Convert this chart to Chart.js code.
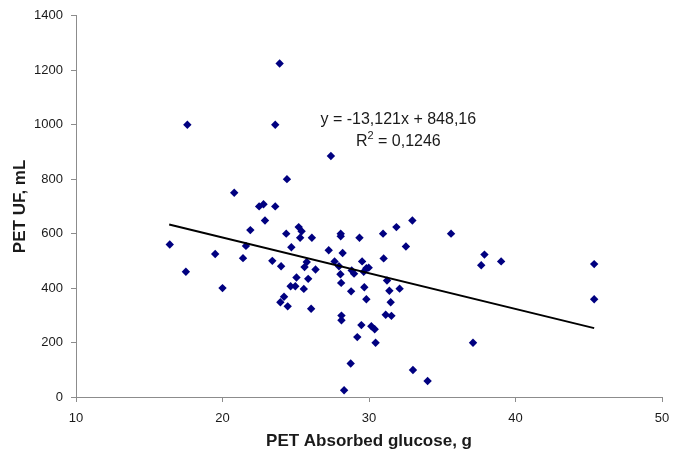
<!DOCTYPE html>
<html>
<head>
<meta charset="utf-8">
<script src="https://cdn.jsdelivr.net/npm/chart.js@4/dist/chart.umd.min.js"></script>
<style>
  html, body { margin: 0; padding: 0; background: #fff; }
  #wrap { width: 682px; height: 462px; }
</style>
</head>
<body>
<div id="wrap"><canvas id="chart" width="682" height="462"></canvas></div>
<script>
'use strict';

// PET absorbed glucose (g) and PET UF (mL)
var glucose = [
    16.4, 17.5, 17.6, 19.5, 20.0, 20.8, 21.4, 21.6, 21.9, 22.5,
    22.8, 22.9, 23.4, 23.6, 23.6, 23.9, 24.0, 23.95, 24.2, 24.35,
    24.4, 24.45, 24.65, 24.7, 24.97, 25.05, 25.2, 25.4, 25.3, 25.55,
    25.6, 25.75, 25.85, 26.05, 26.1, 26.35, 27.25, 27.4, 27.65, 27.95,
    28.05, 28.07, 28.07, 28.1, 28.12, 28.12, 28.2, 28.3, 28.75, 28.78,
    28.82, 28.98, 29.2, 29.35, 29.48, 29.53, 29.64, 29.68, 29.82, 29.82,
    29.98, 30.16, 30.39, 30.45, 30.96, 31.0, 31.14, 31.23, 31.39, 31.48,
    31.53, 31.87, 32.09, 32.52, 32.96, 33.0, 34.0, 35.6, 37.1, 37.66,
    37.88, 39.02, 45.37, 45.37
]
var uf = [
    560, 460, 1000, 525, 400, 750, 510, 555, 613, 700,
    708, 648, 500, 1000, 700, 1225, 480, 348, 368, 600,
    800, 333, 407, 550, 407, 439, 624, 609, 585, 397,
    477, 496, 434, 324, 585, 468, 539, 885, 498, 480,
    451, 600, 590, 419, 299, 282, 529, 25, 123, 388,
    465, 453, 220, 585, 264, 498, 460, 403, 359, 473,
    475, 260, 249, 199, 600, 509, 302, 428, 390, 348,
    298, 624, 398, 553, 648, 99, 59, 600, 199, 484,
    523, 498, 488, 359
]

// linear trendline as printed on the chart
var trendSlope = -13.121
var trendIntercept = 848.16
var trendX = [16.36, 45.37]

var xTicks = [10, 20, 30, 40, 50]
var yTicks = [0, 200, 400, 600, 800, 1000, 1200, 1400]

var equationText = 'y = -13,121x + 848,16'
var r2Text = ' = 0,1246'

var pointColor = '#000080'
var axisColor = '#8c8c8c'
var textColor = '#1a1a1a'
var fontFamily = '"Liberation Sans", Arial, sans-serif'

var points = []
for (var i = 0; i < glucose.length; i++) {
    points.push({ x: glucose[i], y: uf[i] })
}

var trendPoints = trendX.map(function (x) {
    return { x: x, y: trendSlope * x + trendIntercept }
})

var equationPlugin = {
    id: 'equation',
    afterDatasetsDraw: function (chart) {
        var ctx = chart.ctx
        var xs = chart.scales.x
        var ys = chart.scales.y
        var cx = xs.getPixelForValue(32.0)
        ctx.save()
        ctx.fillStyle = textColor
        ctx.font = '16px ' + fontFamily
        ctx.textBaseline = 'middle'
        ctx.textAlign = 'center'
        ctx.fillText(equationText, cx, ys.getPixelForValue(1019))

        // R² with a raised 2
        var y2 = ys.getPixelForValue(938)
        ctx.textAlign = 'left'
        var wR = ctx.measureText('R').width
        var wRest = ctx.measureText(r2Text).width
        ctx.font = '11px ' + fontFamily
        var wSup = ctx.measureText('2').width
        var start = cx - (wR + wSup + wRest) / 2
        ctx.font = '16px ' + fontFamily
        ctx.fillText('R', start, y2)
        ctx.font = '11px ' + fontFamily
        ctx.fillText('2', start + wR, y2 - 6)
        ctx.font = '16px ' + fontFamily
        ctx.fillText(r2Text, start + wR + wSup, y2)
        ctx.restore()
    }
}

var ctx = document.getElementById('chart').getContext('2d')
new Chart(ctx, {
    type: 'scatter',
    data: {
        datasets: [{
            label: 'PET',
            data: points,
            pointStyle: 'rectRot',
            pointRadius: 4.2,
            pointHoverRadius: 4.2,
            backgroundColor: pointColor,
            borderColor: pointColor,
            borderWidth: 0,
            order: 2
        }, {
            label: 'Trend',
            type: 'line',
            data: trendPoints,
            borderColor: '#000',
            borderWidth: 2,
            pointRadius: 0,
            fill: false,
            order: 1
        }]
    },
    options: {
        responsive: false,
        animation: false,
        layout: {
            padding: { left: 0, right: 20, top: 15, bottom: 0 }
        },
        plugins: {
            legend: { display: false },
            tooltip: { enabled: false }
        },
        scales: {
            x: {
                type: 'linear',
                min: 10,
                max: 50,
                afterBuildTicks: function (axis) {
                    axis.ticks = xTicks.map(function (v) { return { value: v } })
                },
                afterFit: function (axis) {
                    axis.height = 65
                },
                grid: {
                    drawOnChartArea: false,
                    drawTicks: true,
                    tickLength: 5,
                    color: axisColor
                },
                border: { color: axisColor, width: 1 },
                ticks: {
                    color: textColor,
                    padding: 9,
                    font: { family: fontFamily, size: 13 },
                    callback: function (v) { return String(v) }
                },
                title: {
                    display: true,
                    text: 'PET Absorbed glucose, g',
                    color: textColor,
                    padding: { top: 0, bottom: 10 },
                    font: { family: fontFamily, size: 17, weight: 'bold' }
                }
            },
            y: {
                type: 'linear',
                min: 0,
                max: 1400,
                afterBuildTicks: function (axis) {
                    axis.ticks = yTicks.map(function (v) { return { value: v } })
                },
                afterFit: function (axis) {
                    axis.width = 76
                },
                grid: {
                    drawOnChartArea: false,
                    drawTicks: true,
                    tickLength: 5,
                    color: axisColor
                },
                border: { color: axisColor, width: 1 },
                ticks: {
                    color: textColor,
                    padding: 8,
                    font: { family: fontFamily, size: 13 },
                    callback: function (v) { return String(v) }
                },
                title: {
                    display: true,
                    text: 'PET UF, mL',
                    color: textColor,
                    padding: { top: 10, bottom: 0 },
                    font: { family: fontFamily, size: 17, weight: 'bold' }
                }
            }
        }
    },
    plugins: [equationPlugin]
})
</script>
</body>
</html>
